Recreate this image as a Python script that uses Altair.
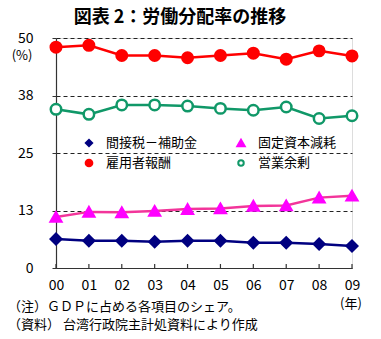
import altair as alt
import pandas as pd

years = ["00", "01", "02", "03", "04", "05", "06", "07", "08", "09"]
names = ["間接税－補助金", "固定資本減耗", "雇用者報酬", "営業余剰"]
indirect = [6.3, 5.9, 5.9, 5.7, 5.9, 5.9, 5.5, 5.5, 5.2, 4.8]
depreciation = [11.1, 12.2, 12.1, 12.4, 12.8, 12.95, 13.5, 13.6, 15.3, 15.7]
compensation = [48.0, 48.4, 46.2, 46.2, 45.7, 46.2, 46.7, 45.4, 47.2, 46.1]
surplus = [34.5, 33.4, 35.45, 35.45, 35.2, 34.7, 34.3, 35.0, 32.5, 33.1]
y_ticks = [0, 12.5, 25, 37.5, 50]

title_text = "図表 2：労働分配率の推移"
note1 = "（注）ＧＤＰに占める各項目のシェア。"
note2 = "（資料） 台湾行政院主計処資料により作成"

FONT = "Noto Sans CJK JP"
line_colors = ["#000080", "#F2359A", "#FF0000", "#109868"]
mark_colors = ["#000080", "#FF00FF", "#FF0000", "#109868"]
fills = ["#000080", "#FF00FF", "#FF0000", "#FFFFFF"]
shapes = ["diamond", "triangle-up", "circle", "circle"]

rows = []
for name, vals in zip(names, [indirect, depreciation, compensation, surplus]):
    for yr, v in zip(years, vals):
        rows.append({"year": yr, "series": name, "value": v})
df = pd.DataFrame(rows)

W, H = 296, 230

xenc = alt.X("year:O", scale=alt.Scale(type="point", padding=0, domain=years),
             axis=alt.Axis(title=None, labelAngle=0, ticks=False, grid=False,
                           domainColor="#333333", domainWidth=1.2,
                           labelFont=FONT, labelFontSize=14, labelColor="#000000",
                           labelPadding=10))
yenc = alt.Y("value:Q", scale=alt.Scale(domain=[0, 50], nice=False, zero=True),
             axis=alt.Axis(title=None, values=y_ticks, labelExpr="round(datum.value)",
                           grid=True, gridDash=[4, 3], gridColor="#222222", gridWidth=1,
                           domainColor="#333333", domainWidth=1.2, tickColor="#333333",
                           tickSize=4, labelFont=FONT, labelFontSize=14,
                           labelColor="#000000", labelPadding=19))

color_scale = alt.Scale(domain=names, range=line_colors)

lines = alt.Chart(df).mark_line(strokeWidth=2.5).encode(
    x=xenc, y=yenc,
    color=alt.Color("series:N", scale=color_scale, legend=None),
    detail="series:N",
)

pts = alt.Chart(df).mark_point(filled=False, opacity=1, strokeWidth=2.5).encode(
    x="year:O", y="value:Q",
    shape=alt.Shape("series:N", scale=alt.Scale(domain=names, range=shapes), legend=None),
    stroke=alt.Stroke("series:N", scale=alt.Scale(domain=names, range=mark_colors), legend=None),
    fill=alt.Fill("series:N", scale=alt.Scale(domain=names, range=fills), legend=None),
    size=alt.Size("series:N", scale=alt.Scale(domain=names, range=[110, 110, 120, 80]), legend=None),
)

ticks_df = pd.DataFrame({"year": years})
xticks = alt.Chart(ticks_df).mark_rule(color="#333333", strokeWidth=1.2).encode(
    x="year:O", y=alt.value(H), y2=alt.value(H - 4)
)

one = pd.DataFrame({"a": [0]})

def txt(text, x, y, size=13, align="left", weight="normal", baseline="middle"):
    return alt.Chart(one).mark_text(text=text, font=FONT, fontSize=size, align=align,
                                    baseline=baseline, fontWeight=weight, color="#000000").encode(
        x=alt.value(x), y=alt.value(y))

def sym(shape, color, fill, x, y, size):
    return alt.Chart(one).mark_point(shape=shape, stroke=color, fill=fill, filled=False,
                                     opacity=1, strokeWidth=2, size=size).encode(
        x=alt.value(x), y=alt.value(y))

legend_pos = [(33, 105), (185, 105), (33, 125), (185, 125)]
leg_sizes = [40, 55, 45, 30]
legend_layers = []
for i, name in enumerate(names):
    lx, ly = legend_pos[i]
    legend_layers.append(sym(shapes[i], mark_colors[i], fills[i], lx, ly, leg_sizes[i]))
    legend_layers.append(txt(name, lx + 17, ly, size=13))

extras = [
    txt(title_text, 124, -20, size=18, align="center", weight="bold"),
    txt("(%)", -34, 18, size=13, align="center"),
    txt("(年)", 295, 266, size=13, align="center"),
    txt(note1, -48, 269, size=13),
    txt(note2, -48, 287, size=13),
]

chart = alt.layer(lines, pts, xticks, *legend_layers, *extras).properties(
    width=W, height=H,
    autosize=alt.AutoSizeParams(type="none"),
    padding={"left": 56, "top": 38, "right": 29, "bottom": 71},
).configure_view(stroke=None).configure(background="#FFFFFF")

chart.save("out.html", embed_options={"renderer": "svg", "actions": False})
